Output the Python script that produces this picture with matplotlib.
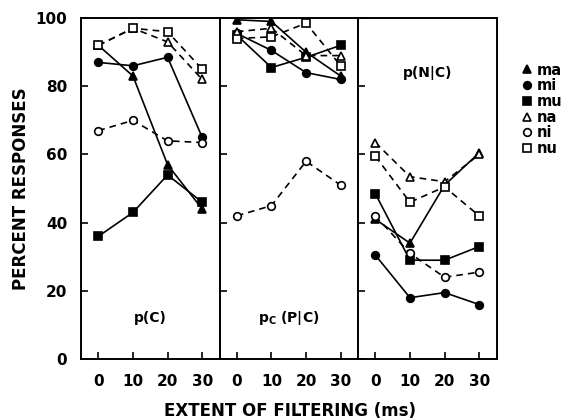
import matplotlib.pyplot as plt
from matplotlib.lines import Line2D

plt.rcParams['font.family'] = 'DejaVu Sans'
plt.rcParams['font.weight'] = 'bold'
plt.rcParams['axes.labelweight'] = 'bold'

# Data
filtering = [0, 10, 20, 30]
subjects = ['ma', 'mi', 'mu', 'na', 'ni', 'nu']

p_c = {
    'ma': [92, 83, 57, 44],
    'mi': [87, 86, 88.5, 65],
    'mu': [36, 43, 54, 46],
    'na': [92, 97, 93, 82],
    'ni': [67, 70, 64, 63.5],
    'nu': [92, 97, 96, 85],
}
pc_p_c = {
    'ma': [99.5, 99, 90, 83],
    'mi': [95.5, 90.5, 84, 82],
    'mu': [95, 85.5, 88.5, 92],
    'na': [96, 97, 89, 89],
    'ni': [42, 45, 58, 51],
    'nu': [94, 94.5, 98.5, 86],
}
p_n_c = {
    'ma': [41, 34, 51, 60.5],
    'mi': [30.5, 18, 19.5, 16],
    'mu': [48.5, 29, 29, 33],
    'na': [63.5, 53.5, 52, 60],
    'ni': [42, 31, 24, 25.5],
    'nu': [59.5, 46, 50.5, 42],
}
panel_data = [p_c, pc_p_c, p_n_c]
panel_labels = ['p(C)', r'$\mathbf{p_C}$ (P|C)', 'p(N|C)']
label_pos = [(15, 12), (15, 12), (15, 84)]

styles = {
    'ma': dict(marker='^', mfc='black', ls='-'),
    'mi': dict(marker='o', mfc='black', ls='-'),
    'mu': dict(marker='s', mfc='black', ls='-'),
    'na': dict(marker='^', mfc='white', ls=(0, (4, 3))),
    'ni': dict(marker='o', mfc='white', ls=(0, (4, 3))),
    'nu': dict(marker='s', mfc='white', ls=(0, (4, 3))),
}

fig = plt.figure(figsize=(5.69, 4.2), dpi=100)
left, bottom, w, h = 0.1424, 0.145, 0.2434, 0.812

for i, data in enumerate(panel_data):
    ax = fig.add_axes([left + i * w, bottom, w, h])
    for s in subjects:
        st = styles[s]
        ax.plot(filtering, data[s], color='black', lw=1.2, ls=st['ls'],
                marker=st['marker'], mfc=st['mfc'], mec='black', mew=1.2,
                ms=5.5)
    ax.set_xlim(-5, 35)
    ax.set_ylim(0, 100)
    ax.set_xticks(filtering)
    ax.set_yticks([0, 20, 40, 60, 80, 100])
    ax.tick_params(direction='in', length=5, width=1.2, labelsize=11)
    ax.tick_params(axis='x', pad=11)
    ax.tick_params(axis='y', pad=10)
    if i > 0:
        ax.tick_params(axis='y', labelleft=False)
    for sp in ax.spines.values():
        sp.set_linewidth(1.4)
    ax.text(*label_pos[i], panel_labels[i], ha='center', va='center',
            fontsize=10, fontweight='bold')
    if i == 0:
        ax.set_ylabel('PERCENT RESPONSES', fontsize=12, labelpad=4)

fig.text(0.51, 0.022, 'EXTENT OF FILTERING (ms)', ha='center', va='center',
         fontsize=12, fontweight='bold')

handles = [Line2D([], [], color='black', ls='none', marker=styles[s]['marker'],
                  mfc=styles[s]['mfc'], mec='black', mew=1.2, ms=5.5)
           for s in subjects]
fig.legend(handles, subjects, loc='upper left', bbox_to_anchor=(0.905, 0.865),
           frameon=False, handletextpad=0.3, labelspacing=0.05,
           handlelength=0.8, borderaxespad=0, fontsize=10.5)

fig.savefig('out.png', dpi=100)
